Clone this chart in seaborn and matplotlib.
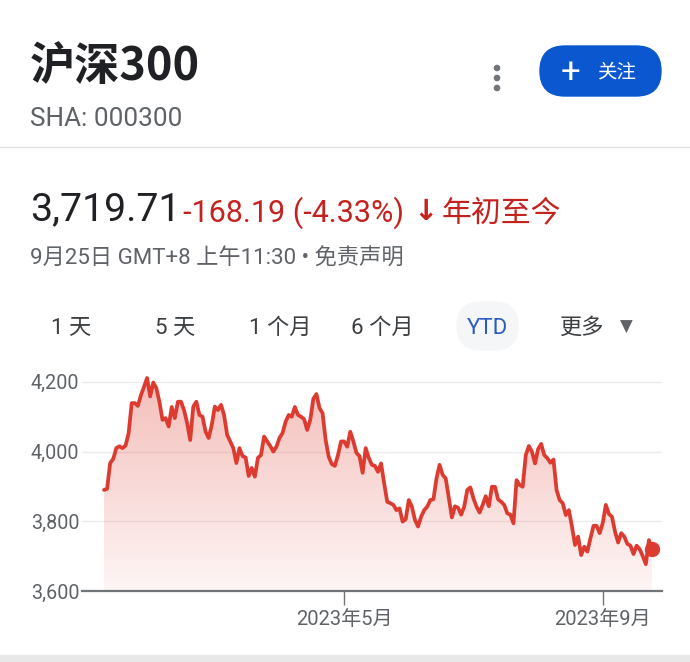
import seaborn as sns
import matplotlib.pyplot as plt
import matplotlib.patches as mpatches
import numpy as np
import pandas as pd

# CSI 300 daily closes, YTD 2023
close = [
    3890, 3893, 3967, 3979, 4010, 4015, 4010, 4017, 4053, 4139, 4139, 4131, 4162, 4186, 4211,
    4158, 4198, 4182, 4143, 4091, 4096, 4072, 4128, 4096, 4143, 4143, 4119, 4082, 4033, 4129,
    4143, 4105, 4100, 4057, 4039, 4076, 4129, 4119, 4134, 4105, 4048, 4029, 4010, 3967, 4010,
    3987, 3983, 3930, 3953, 3928, 3982, 3990, 4043, 4029, 4016, 4000, 4014, 4039, 4053, 4086,
    4105, 4100, 4128, 4105, 4100, 4093, 4062, 4091, 4151, 4165, 4125, 4110, 4033, 3985, 3964,
    3959, 3990, 4029, 4029, 4014, 4057, 4029, 3996, 3987, 3939, 4010, 3982, 3962, 3959, 3942,
    3966, 3909, 3856, 3852, 3847, 3832, 3837, 3799, 3806, 3861, 3842, 3804, 3785, 3813, 3832,
    3842, 3861, 3863, 3923, 3962, 3933, 3923, 3866, 3811, 3843, 3839, 3819, 3842, 3890, 3897,
    3866, 3842, 3825, 3847, 3872, 3843, 3899, 3899, 3863, 3856, 3847, 3823, 3819, 3794, 3918,
    3904, 3899, 3990, 4016, 4000, 3966, 4007, 4022, 3990, 3981, 3968, 3977, 3890, 3861, 3852,
    3818, 3832, 3785, 3732, 3756, 3703, 3727, 3713, 3751, 3787, 3787, 3766, 3795, 3847, 3821,
    3813, 3770, 3739, 3766, 3756, 3735, 3730, 3706, 3730, 3720, 3700, 3677, 3746, 3719.71,
]
holidays = ["2023-01-02", "2023-01-23", "2023-01-24", "2023-01-25", "2023-01-26",
            "2023-01-27", "2023-04-05", "2023-05-01", "2023-05-02", "2023-05-03",
            "2023-06-22", "2023-06-23"]
dates = pd.bdate_range("2023-01-03", "2023-09-25", freq="C", holidays=holidays)[:len(close)]
y_ticks = [3600, 3800, 4000, 4200]
x_tick_months = [5, 9]

df = pd.DataFrame({"date": dates, "close": close})
df["i"] = np.arange(len(df))

RED = "#dd3b2f"
GREY = "#5f6368"
FONTS = ["Roboto", "Noto Sans CJK SC", "DejaVu Sans"]

sns.set_theme(style="white")
plt.rcParams["font.family"] = FONTS

fig = plt.figure(figsize=(6.9, 6.62), dpi=100)
fig.patch.set_facecolor("white")

# pixel-space background axes for the page furniture
bg = fig.add_axes([0, 0, 1, 1])
bg.set_xlim(0, 690)
bg.set_ylim(662, 0)
bg.axis("off")

bg.text(30, 67, "沪深300", fontsize=32.5, fontweight="bold", color="#202124",
        family=["Noto Sans CJK SC"], va="center")
bg.text(30, 119, "SHA: 000300", fontsize=18.8, color=GREY, va="center")
for dy in (-10, 0, 10):
    bg.add_patch(mpatches.Circle((497, 78 + dy), 2.6, color="#70757a"))
bg.add_patch(mpatches.FancyBboxPatch((540, 46), 121, 50,
                                     boxstyle="round,pad=0,rounding_size=25",
                                     color="#0b57d0"))
bg.text(570, 72, "+", fontsize=25, color="white", ha="center", va="center")
bg.text(597, 72, "关注", fontsize=14, color="white", va="center")
bg.axhline(147, color="#e3e3e3", lw=1)

bg.text(30, 210, "3,719.71", fontsize=28.3, color="#202124", va="center")
bg.text(183, 213, "-168.19 (-4.33%)", fontsize=22, color="#c5221f", va="center")
bg.text(426, 212, "↓", fontsize=21, fontweight="bold", color="#c5221f",
        ha="center", va="center", family=["DejaVu Sans"])
bg.text(442, 213, "年初至今", fontsize=21.5, color="#c5221f", va="center")
bg.text(30, 259, "9月25日 GMT+8 上午11:30 • 免责声明", fontsize=16,
        color=GREY, va="center")

bg.add_patch(mpatches.FancyBboxPatch((457, 302), 61, 48,
                                     boxstyle="round,pad=0,rounding_size=24",
                                     color="#f5f6f8"))
ranges = [("1 天", 71), ("5 天", 175), ("1 个月", 280), ("6 个月", 382)]
for label, cx in ranges:
    bg.text(cx, 328, label, fontsize=16, color="#3c4043", ha="center", va="center")
bg.text(487, 328, "YTD", fontsize=16, color="#2b5bc0", ha="center", va="center")
bg.text(582, 328, "更多", fontsize=16, color="#3c4043", ha="center", va="center")
bg.text(626, 327, "▼", fontsize=12, color="#5f6368", ha="center", va="center",
        family=["DejaVu Sans"])
bg.add_patch(mpatches.Rectangle((0, 655), 690, 7, color="#e8e8e8"))

# chart axes
n = len(df)
step = 548 / (n - 1)
x0 = -22 / step
x1 = (n - 1) + 10 / step
y0, y1 = 3600, 4230
ax = fig.add_axes([82 / 690, 1 - 591 / 662, 580 / 690, (591 - 371.4) / 662])
ax.set_facecolor("none")

for v in y_ticks[1:]:
    ax.axhline(v, color="#ececec", lw=1, zorder=0)

# gradient fill under the line
grad = np.zeros((256, 1, 4))
grad[:, 0, :3] = (0.87, 0.23, 0.18)
grad[:, 0, 3] = np.linspace(0.05, 0.34, 256)
im = ax.imshow(grad, extent=[x0, x1, y0, y1], origin="lower", aspect="auto", zorder=1)
poly = ax.fill_between(df["i"], df["close"], y0, color="none", lw=0)
im.set_clip_path(poly.get_paths()[0], transform=ax.transData)

sns.lineplot(data=df, x="i", y="close", ax=ax, color=RED, lw=2.7, zorder=3)
ax.plot(df["i"].iloc[-1], df["close"].iloc[-1], "o", color=RED, ms=10, zorder=4)

ax.set_xlim(x0, x1)
ax.set_ylim(y0, y1)
ax.set_yticks(y_ticks)
ax.set_yticklabels([f"{v:,}" for v in y_ticks])
tick_pos = [df.index[df["date"].dt.month == m][0] for m in x_tick_months]
ax.set_xticks(tick_pos)
ax.set_xticklabels([f"2023年{m}月" for m in x_tick_months])
ax.tick_params(axis="y", length=0, pad=2, labelsize=14.2, labelcolor=GREY)
ax.tick_params(axis="x", length=10, width=1, color="#70757a", direction="out",
               pad=4, labelsize=14.5, labelcolor=GREY, bottom=True)
ax.set_xlabel("")
ax.set_ylabel("")
for s in ["top", "right", "left"]:
    ax.spines[s].set_visible(False)
ax.spines["bottom"].set_color("#70757a")
ax.spines["bottom"].set_linewidth(1.6)

fig.savefig("out.png", dpi=100)
